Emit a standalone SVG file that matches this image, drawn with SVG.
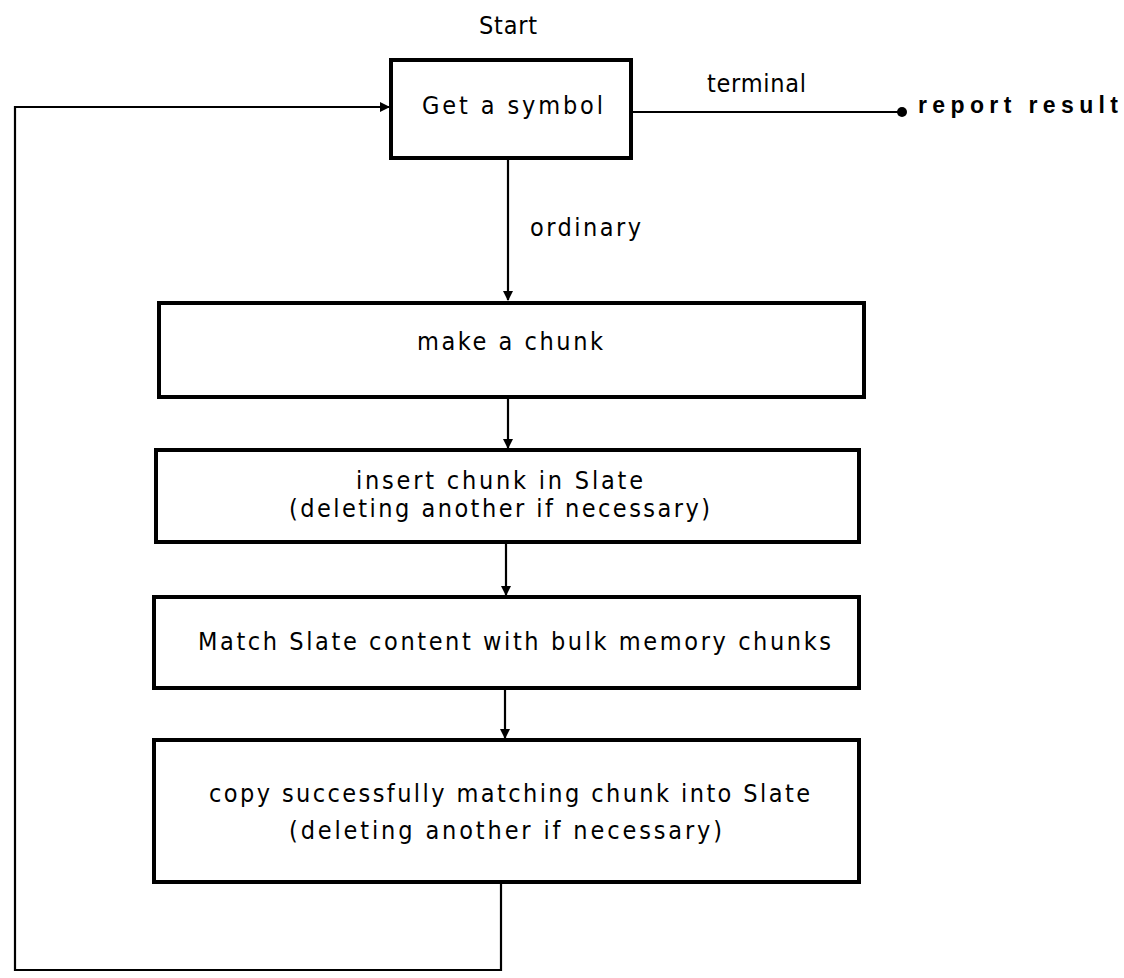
<svg xmlns="http://www.w3.org/2000/svg" width="1124" height="978" viewBox="0 0 1124 978">
<style>
.box{fill:#fff;stroke:#000;stroke-width:4}
.ln{fill:none;stroke:#000;stroke-width:2.2}
.t{font-family:"Liberation Sans Narrow","DejaVu Sans Condensed","Liberation Sans",sans-serif;font-size:25px;fill:#000}
.b{font-family:"Liberation Sans",Arial,sans-serif;font-weight:bold;font-size:23px}
</style>
<defs>
<marker id="ah" viewBox="0 0 10 10" refX="9" refY="5" markerWidth="12" markerHeight="10" orient="auto" markerUnits="userSpaceOnUse">
<path d="M0,0 L10,5 L0,10 z" fill="#000"/>
</marker>
<marker id="dot" viewBox="0 0 10 10" refX="5" refY="5" markerWidth="10" markerHeight="10" orient="auto" markerUnits="userSpaceOnUse">
<circle cx="5" cy="5" r="5" fill="#000"/>
</marker>
</defs>
<rect width="1124" height="978" fill="#fff"/>
<g id="connectors">
<path class="ln" d="M631,112 L902,112" marker-end="url(#dot)"/>
<path class="ln" d="M508,158 L508,300" marker-end="url(#ah)"/>
<path class="ln" d="M508,397 L508,448" marker-end="url(#ah)"/>
<path class="ln" d="M506,542 L506,595" marker-end="url(#ah)"/>
<path class="ln" d="M505,688 L505,738" marker-end="url(#ah)"/>
<path class="ln" d="M501,882 L501,970 L15,970 L15,107 L389,107" marker-end="url(#ah)"/>
</g>
<g id="start-label"><text class="t" x="508" y="34" text-anchor="middle" textLength="58" lengthAdjust="spacing">Start</text></g>
<g id="get-symbol">
<rect class="box" x="391" y="60" width="240" height="98"/>
<text class="t" x="422" y="114" textLength="181" lengthAdjust="spacing">Get a symbol</text>
</g>
<g id="edge-labels">
<text class="t" x="530" y="236" textLength="111" lengthAdjust="spacing">ordinary</text>
<text class="t" x="707" y="92" textLength="99" lengthAdjust="spacing">terminal</text>
</g>
<g id="report-result"><text class="t b" x="918" y="113" textLength="200" lengthAdjust="spacing">report result</text></g>
<g id="make-chunk">
<rect class="box" x="159" y="303" width="705" height="94"/>
<text class="t" x="417" y="350" textLength="186" lengthAdjust="spacing">make a chunk</text>
</g>
<g id="insert-chunk">
<rect class="box" x="156" y="450" width="703" height="92"/>
<text class="t" x="356" y="489" textLength="287" lengthAdjust="spacing">insert chunk in Slate</text>
<text class="t" x="289" y="517" textLength="421" lengthAdjust="spacing">(deleting another if necessary)</text>
</g>
<g id="match-slate">
<rect class="box" x="154" y="597" width="705" height="91"/>
<text class="t" x="198" y="650" textLength="633" lengthAdjust="spacing">Match Slate content with bulk memory chunks</text>
</g>
<g id="copy-chunk">
<rect class="box" x="154" y="740" width="705" height="142"/>
<text class="t" x="209" y="802" textLength="601" lengthAdjust="spacing">copy successfully matching chunk into Slate</text>
<text class="t" x="289" y="839" textLength="433" lengthAdjust="spacing">(deleting another if necessary)</text>
</g>
</svg>
